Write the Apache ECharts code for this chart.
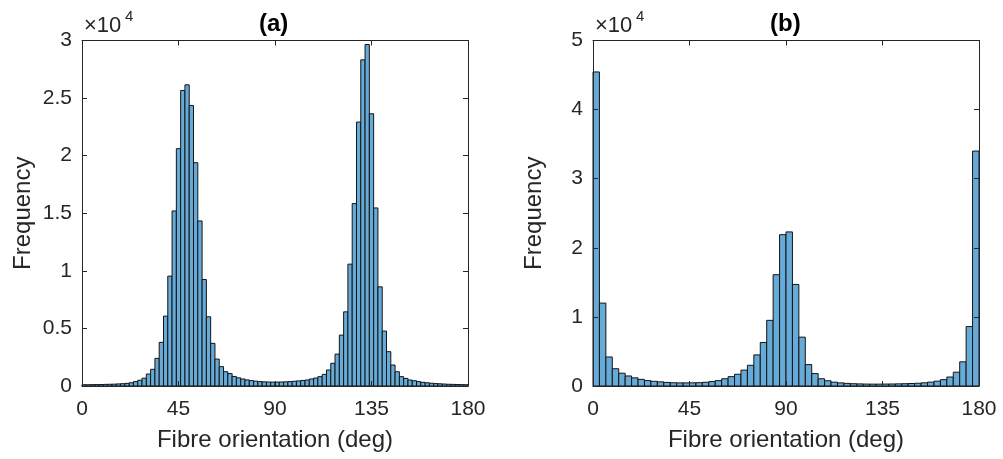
<!DOCTYPE html>
<html>
<head>
<meta charset="utf-8">
<script src="https://cdn.jsdelivr.net/npm/echarts@6/dist/echarts.min.js"></script>
<style>
html,body{margin:0;padding:0;background:#fff;}
#c{width:1003px;height:459px;}
</style>
</head>
<body>
<div id="c"></div>
<script>
// ---- data ----
const xTicks = [0, 45, 90, 135, 180];
const binWidthA = 2;   // degrees per bin, panel (a)
const binWidthB = 3;   // degrees per bin, panel (b)
const countsA = [
  110,110,120,120,130,140,150,160,180,200,
  230,280,380,500,680,1040,1450,2400,3790,6070,
  9540,15200,20610,25660,26150,24360,19390,14330,9250,6010,
  3700,2340,1680,1240,1080,830,710,610,530,470,
  420,380,360,350,340,340,350,360,380,410,
  440,480,520,610,690,810,1010,1390,1970,2770,
  4420,6440,10580,15840,22920,28320,29650,23640,15460,8610,
  4770,2980,1820,1240,810,660,520,460,380,320,
  280,240,210,190,170,150,140,130,120,110
];
const countsB = [
  45450,12000,4200,2500,1850,1450,1180,960,780,680,
  600,520,470,450,450,460,480,540,640,780,
  1050,1350,1700,2300,3000,4500,6300,9500,16100,21900,
  22300,14700,7070,3100,1800,1050,760,560,450,380,
  330,300,280,270,270,280,290,310,330,360,
  400,460,560,700,920,1300,2000,3500,8600,34000
];
const yMaxA = 30000, yStepA = 5000;
const yMaxB = 50000, yStepB = 10000;
const titles = ['(a)', '(b)'];
const xName = 'Fibre orientation (deg)';
const yName = 'Frequency';

// ---- styling ----
const AX = '#262626';
const FONT = '"Liberation Sans", Arial, Helvetica, sans-serif';
const FILL = '#66aad7';

function toBins(counts, w) {
  return counts.map((v, i) => [i * w, (i + 1) * w, v]);
}

function renderBar(params, api) {
  const p0 = api.coord([api.value(0), api.value(2)]);
  const p1 = api.coord([api.value(1), 0]);
  return {
    type: 'rect',
    shape: { x: p0[0], y: p0[1], width: p1[0] - p0[0], height: p1[1] - p0[1] },
    style: { fill: FILL, stroke: '#141414', lineWidth: 1 }
  };
}

const grids = [
  { left: 82, top: 40.5, width: 386, height: 345.5 },
  { left: 593, top: 40.5, width: 386, height: 345.5 }
];

const xAxes = [], yAxes = [], series = [];
[[yMaxA, yStepA], [yMaxB, yStepB]].forEach(([ymax, ystep], g) => {
  const common = {
    gridIndex: g, type: 'value', min: 0, max: 180, interval: 45, z: 10,
    axisLine: { show: true, onZero: false, lineStyle: { color: AX, width: 1 } },
    axisTick: { show: true, inside: true, length: 5, lineStyle: { color: AX } },
    splitLine: { show: false }
  };
  xAxes.push(Object.assign({}, common, {
    position: 'bottom',
    axisLabel: { fontSize: 21, color: AX, fontFamily: FONT, margin: 13,
      formatter: v => xTicks.includes(v) ? String(v) : '' },
    name: xName, nameLocation: 'middle', nameGap: 42,
    nameTextStyle: { fontSize: 24, color: AX, fontFamily: FONT }
  }));
  xAxes.push(Object.assign({}, common, {
    position: 'top', axisLabel: { show: false }
  }));
  const ycommon = {
    gridIndex: g, type: 'value', min: 0, max: ymax, interval: ystep, z: 10,
    axisLine: { show: true, onZero: false, lineStyle: { color: AX, width: 1 } },
    axisTick: { show: true, inside: true, length: 5, lineStyle: { color: AX } },
    splitLine: { show: false }
  };
  yAxes.push(Object.assign({}, ycommon, {
    position: 'left',
    axisLabel: { fontSize: 21, color: AX, fontFamily: FONT, margin: 10,
      formatter: v => String(+(v / 1e4).toFixed(1)) },
    name: yName, nameLocation: 'middle', nameGap: 47,
    nameTextStyle: { fontSize: 24, color: AX, fontFamily: FONT }
  }));
  yAxes.push(Object.assign({}, ycommon, {
    position: 'right', axisLabel: { show: false }
  }));
  series.push({
    type: 'custom',
    xAxisIndex: g * 2, yAxisIndex: g * 2,
    renderItem: renderBar,
    encode: { x: [0, 1], y: 2 },
    data: g === 0 ? toBins(countsA, binWidthA) : toBins(countsB, binWidthB),
    z: 2
  });
});

const graphics = [];
grids.forEach((gr, g) => {
  const cx = gr.left + gr.width / 2;
  graphics.push({ type: 'text', left: cx - 16, top: 12,
    style: { text: titles[g], font: 'bold 24px ' + FONT, fill: '#000' } });
  graphics.push({ type: 'text', left: gr.left + 2, top: 15,
    style: { text: '\u00d710', font: '22px ' + FONT, fill: AX } });
  graphics.push({ type: 'text', left: gr.left + 43, top: 9,
    style: { text: '4', font: '15px ' + FONT, fill: AX } });
});

const chart = echarts.init(document.getElementById('c'), null, { renderer: 'canvas' });
chart.setOption({
  backgroundColor: '#fff',
  animation: false,
  grid: grids,
  xAxis: xAxes,
  yAxis: yAxes,
  series: series,
  graphic: graphics
});
</script>
</body>
</html>
